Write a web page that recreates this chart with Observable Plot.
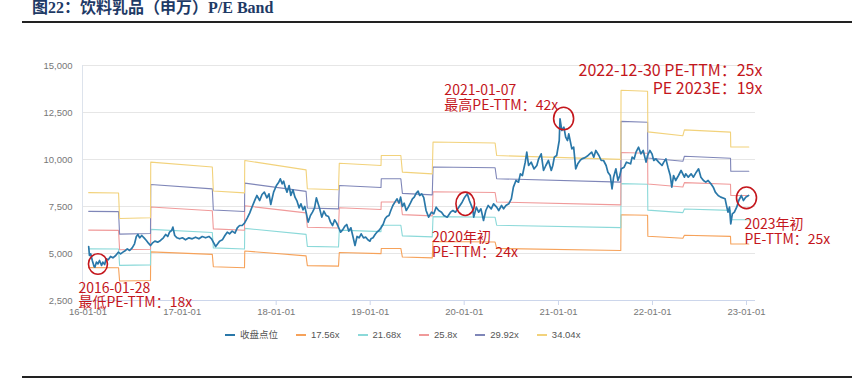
<!DOCTYPE html>
<html><head><meta charset="utf-8">
<script src="https://cdn.jsdelivr.net/npm/d3@7"></script>
<script src="https://cdn.jsdelivr.net/npm/@observablehq/plot@0.6"></script>
<style>
body{margin:0;background:#fff;width:852px;height:383px;overflow:hidden;position:relative;font-family:"Liberation Sans","Noto Sans CJK SC",sans-serif;}
#title{position:absolute;left:32px;top:-1px;font-weight:bold;font-size:16px;font-family:"Liberation Serif","Noto Sans CJK SC",serif;color:#1e3a66;line-height:17px;white-space:nowrap;}
#rule-top{position:absolute;left:22px;right:0;top:20.5px;height:2px;background:#222;}
#chart{position:absolute;left:0;top:22px;}
#legend{position:absolute;left:225px;top:329px;display:flex;align-items:center;font-size:9.5px;color:#555;white-space:nowrap;line-height:12px;}
.item{display:flex;align-items:center;margin-right:18px}
.sw{width:10px;height:2px;margin-right:5px}
#rule-bottom{position:absolute;left:22px;right:0;top:376px;height:2px;background:#222;}
</style></head><body>
<div id="title">图22：饮料乳品（申万）P/E Band</div>
<div id="rule-top"></div>
<div id="chart"></div>
<div id="legend"></div>
<div id="rule-bottom"></div>
<script>
// ---------- DATA ----------
const closeSeries = [
["2016-01-04",5373],["2016-01-07",4894],["2016-01-12",4983],["2016-01-18",4628],["2016-01-25",4309],["2016-01-28",4274],
["2016-02-03",4540],["2016-02-09",4451],["2016-02-15",4628],["2016-02-23",4362],["2016-02-28",4540],["2016-03-06",4415],
["2016-03-12",4717],["2016-03-20",4664],["2016-03-29",4841],["2016-04-07",4770],["2016-04-18",4894],["2016-04-28",5072],
["2016-05-07",4983],["2016-05-16",5072],["2016-05-26",5160],["2016-06-02",5249],["2016-06-11",5160],["2016-06-21",5302],
["2016-06-30",5515],["2016-07-07",5905],["2016-07-13",6011],["2016-07-20",5834],["2016-07-28",5958],["2016-08-06",5834],
["2016-08-15",5692],["2016-08-23",5550],["2016-08-31",5426],["2016-09-07",5550],["2016-09-17",5656],["2016-09-28",5603],
["2016-10-09",5692],["2016-10-20",5834],["2016-10-29",6011],["2016-11-06",5905],["2016-11-13",6135],["2016-11-21",6224],
["2016-11-26",6401],["2016-12-03",5958],["2016-12-12",5834],["2016-12-22",5781],["2017-01-02",5834],["2017-01-14",5727],
["2017-01-27",5834],["2017-02-09",5781],["2017-02-22",5869],["2017-03-07",5781],["2017-03-20",5905],["2017-04-02",5834],
["2017-04-15",5905],["2017-04-25",5781],["2017-05-04",5550],["2017-05-11",5373],["2017-05-19",5515],["2017-05-26",5656],
["2017-06-06",5727],["2017-06-16",5958],["2017-06-25",6135],["2017-07-04",6047],["2017-07-14",6188],["2017-07-25",6082],
["2017-08-03",6366],["2017-08-12",6490],["2017-08-22",6490],["2017-08-31",6614],["2017-09-11",6900],["2017-09-20",7150],
["2017-09-30",7500],["2017-10-09",7800],["2017-10-18",8086],["2017-10-29",7820],["2017-11-07",8139],["2017-11-16",8263],
["2017-11-26",7961],["2017-12-04",8174],["2017-12-11",7607],["2017-12-22",8263],["2018-01-02",8617],["2018-01-11",8795],
["2018-01-17",8972],["2018-01-24",8706],["2018-01-30",8848],["2018-02-05",8529],["2018-02-12",8263],["2018-02-20",8617],
["2018-02-27",8086],["2018-03-07",8387],["2018-03-15",7997],["2018-03-23",7784],["2018-03-31",7429],["2018-04-07",7642],
["2018-04-15",7323],["2018-04-22",7500],["2018-04-28",7146],["2018-05-05",6667],["2018-05-14",7022],["2018-05-22",7199],
["2018-05-30",7429],["2018-06-06",7961],["2018-06-13",7642],["2018-06-19",7376],["2018-06-27",6933],["2018-07-05",7252],
["2018-07-14",7022],["2018-07-23",6969],["2018-07-31",6667],["2018-08-08",6490],["2018-08-16",6791],["2018-08-24",6614],
["2018-09-01",6366],["2018-09-08",6135],["2018-09-16",6259],["2018-09-24",6437],["2018-10-02",6543],["2018-10-10",6188],
["2018-10-18",6366],["2018-10-26",5905],["2018-11-03",5426],["2018-11-11",5905],["2018-11-19",5834],["2018-11-27",6047],
["2018-12-06",5834],["2018-12-15",5869],["2018-12-23",5727],["2018-12-31",5656],["2019-01-04",5781],["2019-01-12",5834],
["2019-01-20",6011],["2019-01-27",6135],["2019-02-04",6224],["2019-02-12",6366],["2019-02-20",6543],["2019-02-28",6844],
["2019-03-07",6969],["2019-03-15",7022],["2019-03-22",7288],["2019-03-30",7553],["2019-04-07",7731],["2019-04-15",7908],
["2019-04-23",7678],["2019-04-29",7997],["2019-05-06",7500],["2019-05-13",7678],["2019-05-21",7288],["2019-05-29",7465],
["2019-06-06",7678],["2019-06-14",7908],["2019-06-21",7997],["2019-06-29",8210],["2019-07-06",8316],["2019-07-12",8086],
["2019-07-20",8174],["2019-07-28",7970],["2019-08-06",7287],["2019-08-16",6933],["2019-08-27",7198],["2019-09-05",7110],
["2019-09-14",7464],["2019-09-24",7287],["2019-10-05",7198],["2019-10-14",7021],["2019-10-27",6933],["2019-11-09",7198],
["2019-11-18",7287],["2019-11-28",7198],["2019-12-11",7464],["2019-12-24",7730],["2020-01-03",7996],["2020-01-13",8174],
["2020-01-21",7819],["2020-02-03",7376],["2020-02-07",6933],["2020-02-17",7464],["2020-02-26",7198],["2020-03-06",7376],
["2020-03-16",6755],["2020-03-25",7287],["2020-04-03",7553],["2020-04-15",7376],["2020-04-24",7642],["2020-05-06",7464],
["2020-05-14",7287],["2020-05-25",7553],["2020-06-02",7376],["2020-06-11",7553],["2020-06-22",7642],["2020-07-02",7908],
["2020-07-10",8528],["2020-07-20",8883],["2020-07-30",8794],["2020-08-06",9237],["2020-08-14",9149],["2020-08-25",9858],
["2020-08-31",10390],["2020-09-07",9681],["2020-09-17",9858],["2020-09-28",9503],["2020-10-09",9681],["2020-10-16",10035],
["2020-10-26",10301],["2020-11-04",9415],["2020-11-13",9681],["2020-11-23",9947],["2020-12-04",9415],["2020-12-10",9681],
["2020-12-16",10124],["2020-12-25",10213],["2021-01-04",11010],["2021-01-07",12163],["2021-01-14",11542],["2021-01-22",11720],
["2021-01-29",11188],["2021-02-05",11010],["2021-02-10",11365],["2021-02-22",10567],["2021-03-01",10656],["2021-03-09",9503],
["2021-03-17",9769],["2021-03-26",9947],["2021-04-02",10035],["2021-04-14",10100],["2021-04-26",10213],["2021-05-10",10390],
["2021-05-18",10124],["2021-05-26",10479],["2021-06-07",10213],["2021-06-16",9947],["2021-06-25",9947],["2021-07-05",9681],
["2021-07-12",9326],["2021-07-21",9149],["2021-07-28",8440],["2021-08-03",9060],["2021-08-12",9504],["2021-08-20",8883],
["2021-08-27",9149],["2021-09-02",9504],["2021-09-13",9592],["2021-09-22",9858],["2021-10-08",9770],["2021-10-14",10124],
["2021-10-22",10035],["2021-10-29",10390],["2021-11-08",10656],["2021-11-17",10301],["2021-11-26",10479],["2021-12-07",9858],
["2021-12-13",10213],["2021-12-22",10479],["2021-12-30",10301],["2022-01-06",9947],["2022-01-14",10035],["2022-01-25",9858],
["2022-02-07",9681],["2022-02-14",9858],["2022-02-22",10035],["2022-03-02",9592],["2022-03-11",9149],["2022-03-17",8528],
["2022-03-24",9149],["2022-04-01",8883],["2022-04-12",9149],["2022-04-22",9415],["2022-05-05",9060],["2022-05-10",9238],
["2022-05-20",9060],["2022-05-31",9238],["2022-06-09",9060],["2022-06-20",9326],["2022-06-29",9504],["2022-07-08",9060],
["2022-07-18",8883],["2022-07-27",8794],["2022-08-05",8883],["2022-08-16",8706],["2022-08-25",8528],["2022-09-02",8262],
["2022-09-13",8085],["2022-09-23",7997],["2022-10-10",7908],["2022-10-14",7642],["2022-10-21",7199],["2022-10-27",7465],
["2022-11-01",6578],["2022-11-07",7110],["2022-11-15",7199],["2022-11-24",7465],["2022-12-02",7819],["2022-12-12",8085],
["2022-12-20",7819],["2022-12-29",7997],["2023-01-09",8085]
];

// band segments (EPS update periods)
const segStart = ["2016-01-04","2016-05-03","2016-09-01","2017-05-02","2017-09-01","2018-05-02","2018-09-03","2019-02-13",
                  "2019-05-06","2019-09-02","2020-05-06","2021-09-01","2021-12-14","2022-05-05","2022-11-01"];
const segEnd   = ["2016-04-29","2016-08-31","2017-04-28","2017-08-31","2018-04-27","2018-08-31","2019-02-12","2019-04-30",
                  "2019-08-30","2020-04-30","2021-08-31","2021-12-13","2022-04-29","2022-10-31","2023-01-10"];

const pe1756 = [[4250,4241],[3538,3560],[5087,4952],[4293,4244],[5131,4875],[4355,4327],[5057,4994],[5268,5268],
                [4811,4766],[5637,5610],[5268,5163],[7059,7033],[5918,5812],[5970,5909],[5502,5502]];
const pe2168 = [[5247,5236],[4369,4395],[6281,6114],[5301,5240],[6335,6018],[5377,5342],[6244,6166],[6504,6504],
                [5940,5884],[6959,6927],[6504,6374],[8715,8683],[7306,7176],[7371,7295],[6792,6792]];
const pe258  = [[6244,6231],[5199,5230],[7474,7276],[6308,6236],[7539,7162],[6398,6357],[7430,7338],[7740,7740],
                [7069,7002],[8282,8243],[7740,7585],[10372,10333],[8695,8540],[8772,8682],[8083,8083]];
const pe2992 = [[7241,7226],[6029,6065],[8668,8437],[7315,7232],[8743,8306],[7420,7372],[8617,8509],[8976,8976],
                [8198,8120],[9604,9559],[8976,8796],[12028,11983],[10083,9904],[10173,10068],[9374,9374]];
const pe3404 = [[8238,8221],[6859,6900],[9861,9599],[8323,8227],[9947,9450],[8442,8387],[9804,9681],[10212,10212],
                [9327,9238],[10927,10876],[10212,10008],[13684,13633],[11471,11267],[11574,11455],[10665,10665]];

const seriesNames = ["收盘点位","17.56x","21.68x","25.8x","29.92x","34.04x"];
const xTicks = ["2016-01-01","2017-01-01","2018-01-01","2019-01-01","2020-01-01","2021-01-01","2022-01-01","2023-01-01"];
const yTicks = [2500,5000,7500,10000,12500,15000];
const xDomain = ["2015-12-11","2023-02-05"];
const yDomain = [2500,15000];

const circleMarks = [
  {date:"2016-02-09", value:4441},
  {date:"2020-01-05", value:7643},
  {date:"2021-01-21", value:12181},
  {date:"2023-01-01", value:7962}
];
const annotations = [
  {date:"2015-11-25", value:2160, text:"2016-01-28\n最低PE-TTM：18x"},
  {date:"2019-08-29", value:4840, text:"2020年初\nPE-TTM：24x"},
  {date:"2019-10-16", value:12659, text:"2021-01-07\n最高PE-TTM：42x"},
  {date:"2023-03-04", value:13495, text:"2022-12-30 PE-TTM：25x\nPE 2023E：19x"},
  {date:"2022-12-24", value:5479, text:"2023年初\nPE-TTM：25x"}
];

// ---------- STYLE ----------
const colors = ["#2a78a9","#f6a25a","#8bd9d9","#f09a9a","#7f86b8","#f2d27b"];
const red = "#c4161c";
const circleShape = [[9.5,10.3],[9.3,11.7],[10,11.3],[10,10.8]];
const annStyle = [
  {size:14, lh:1.0, anchor:"start"},
  {size:14, lh:1.07, anchor:"start"},
  {size:14, lh:1.07, anchor:"start"},
  {size:16, lh:1.14, anchor:"end"},
  {size:14, lh:1.14, anchor:"start"}
];

const parse = d3.utcParse("%Y-%m-%d");
const closeData = closeSeries.map(([d,v]) => ({date: parse(d), value: v}));
const bandSets = [pe1756, pe2168, pe258, pe2992, pe3404];
const bandData = [];
bandSets.forEach((vals, k) => {
  vals.forEach(([s, e], i) => {
    bandData.push({date: parse(segStart[i]), value: s, band: seriesNames[k+1]});
    bandData.push({date: parse(segEnd[i]), value: e, band: seriesNames[k+1]});
  });
});

function ellipseSymbol(k) {
  return {draw(ctx, size) {
    const rx = Math.sqrt(size / Math.PI), ry = rx * k, c = 0.5523;
    ctx.moveTo(rx, 0);
    ctx.bezierCurveTo(rx, c*ry, c*rx, ry, 0, ry);
    ctx.bezierCurveTo(-c*rx, ry, -rx, c*ry, -rx, 0);
    ctx.bezierCurveTo(-rx, -c*ry, -c*rx, -ry, 0, -ry);
    ctx.bezierCurveTo(c*rx, -ry, rx, -c*ry, rx, 0);
    ctx.closePath();
  }};
}

const xd = xDomain.map(parse);
const chart = Plot.plot({
  width: 852,
  height: 300,
  marginLeft: 82,
  marginRight: 97,
  marginTop: 43,
  marginBottom: 22,
  style: {fontFamily: '"Liberation Sans","Noto Sans CJK SC",sans-serif', fontSize: "9.5px", color: "#777", background: "transparent", overflow: "visible"},
  x: {type: "utc", domain: xd, label: null},
  y: {domain: yDomain, label: null},
  color: {domain: seriesNames.slice(1), range: colors.slice(1)},
  marks: [
    Plot.gridY({ticks: yTicks, stroke: "#e6e6e6", strokeOpacity: 1}),
    Plot.ruleX([xd[0]], {stroke: "#dde3ec"}),
    Plot.ruleY([yDomain[0]], {stroke: "#ccd6eb"}),
    Plot.axisX({ticks: xTicks.map(parse), tickFormat: d3.utcFormat("%y-%m-%d"), tickSize: 5, tickPadding: 3, stroke: "#ccd6eb", fill: "#777", label: null}),
    Plot.axisY({ticks: yTicks, tickFormat: d3.format(","), tickSize: 0, tickPadding: 10, fill: "#777", label: null}),
    Plot.line(bandData, {x: "date", y: "value", z: "band", stroke: "band", strokeWidth: 1.1}),
    Plot.line(closeData, {x: "date", y: "value", stroke: colors[0], strokeWidth: 1.7}),
    ...circleMarks.map((c, i) => Plot.dot([{date: parse(c.date), value: c.value}], {
      x: "date", y: "value", r: circleShape[i][0], symbol: ellipseSymbol(circleShape[i][1] / circleShape[i][0]),
      stroke: red, fill: "none", strokeWidth: 1.6
    })),
    ...annotations.map((a, i) => Plot.text([{date: parse(a.date), value: a.value, text: a.text}], {
      x: "date", y: "value", text: "text", fill: red, fontSize: annStyle[i].size, lineHeight: annStyle[i].lh,
      textAnchor: annStyle[i].anchor, lineAnchor: "bottom", fontFamily: '"Noto Sans CJK SC",sans-serif'
    }))
  ]
});
document.getElementById("chart").appendChild(chart);

const legend = document.getElementById("legend");
seriesNames.forEach((name, i) => {
  const item = document.createElement("div");
  item.className = "item";
  const sw = document.createElement("div");
  sw.className = "sw";
  sw.style.background = colors[i];
  const label = document.createElement("span");
  label.textContent = name;
  item.appendChild(sw); item.appendChild(label);
  legend.appendChild(item);
});
</script></body></html>
